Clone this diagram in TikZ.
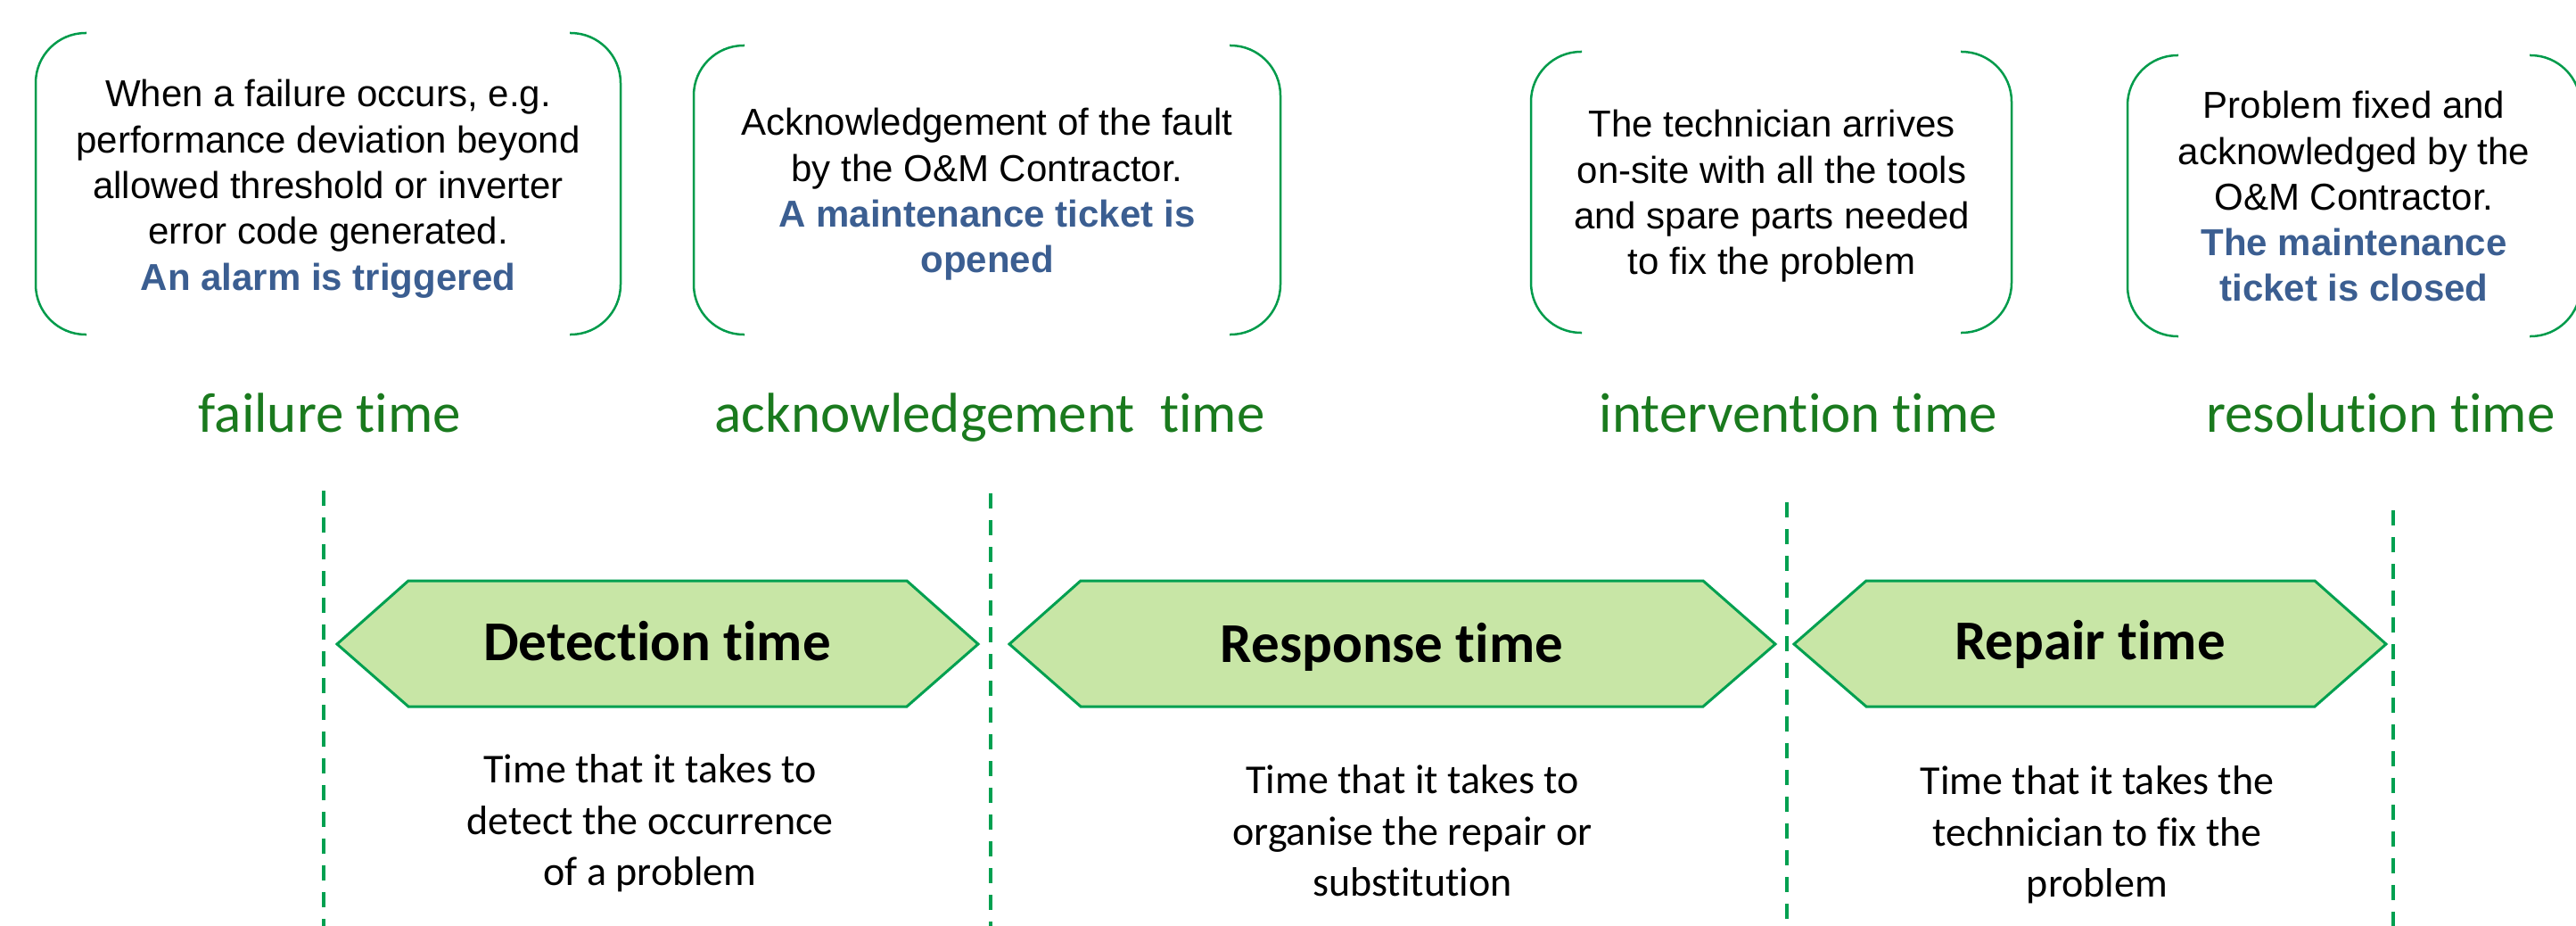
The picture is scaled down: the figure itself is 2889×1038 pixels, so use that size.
\documentclass[tikz,border=0pt]{standalone}
\usepackage{fontspec}
\setmainfont{Liberation Sans}
\newfontfamily\calfont[Ligatures=NoCommon,RawFeature={-liga;-clig;-dlig}]{Carlito}
\definecolor{brgreen}{RGB}{0,155,75}
\definecolor{dashgreen}{RGB}{0,160,80}
\definecolor{hexfill}{RGB}{200,230,166}
\definecolor{hexdraw}{RGB}{0,160,80}
\definecolor{lgreen}{RGB}{26,122,30}
\definecolor{tblue}{RGB}{59,94,145}
\newcommand{\hl}[1]{{\bfseries\color{tblue}#1}}
\begin{document}
\begin{tikzpicture}[x=1pt,y=-1pt,
  bracket/.style={draw=brgreen, line width=2.5pt, rounded corners=56pt},
  toptext/.style={align=center, inner sep=0pt, font=\fontsize{42}{51.3}\selectfont},
  timelabel/.style={anchor=base, inner sep=0pt, text=lgreen, font=\calfont\fontsize{63}{70}\selectfont},
  hexshape/.style={fill=hexfill, draw=hexdraw, line width=3pt, line join=miter},
  hextext/.style={anchor=base, inner sep=0pt, font=\calfont\bfseries\fontsize{63}{70}\selectfont},
  bottext/.style={align=center, inner sep=0pt, font=\calfont\fontsize{46}{57.5}\selectfont},
  divider/.style={draw=dashgreen, line width=4.5pt, dash pattern=on 17pt off 13pt}
]
\useasboundingbox (0,0) rectangle (2889,1038);

% ---- top boxes (brackets) ----
\draw[bracket] (97,37) -- (40,37) -- (40,375) -- (97,375);
\draw[bracket] (639,37) -- (696,37) -- (696,375) -- (639,375);
\draw[bracket] (835,51) -- (778,51) -- (778,375) -- (835,375);
\draw[bracket] (1379,51) -- (1436,51) -- (1436,375) -- (1379,375);
\draw[bracket] (1774,58) -- (1717,58) -- (1717,373) -- (1774,373);
\draw[bracket] (2199,58) -- (2256,58) -- (2256,373) -- (2199,373);
\draw[bracket] (2443,62) -- (2386,62) -- (2386,377) -- (2443,377);
\draw[bracket] (2837,62) -- (2894,62) -- (2894,377) -- (2837,377);

\node[toptext] (t1) at (368,211.7) {When a failure occurs, e.g.\\performance deviation beyond\\allowed threshold or inverter\\error code generated.\\\hl{An alarm is triggered}};
\node[toptext] (t2) at (1107,218) {Acknowledgement of the fault\\by the O\&M Contractor.\\\hl{A maintenance ticket is}\\\hl{opened}};
\node[toptext] (t3) at (1987,220) {The technician arrives\\on-site with all the tools\\and spare parts needed\\to fix the problem};
\node[toptext] (t4) at (2640,220.3) {Problem fixed and\\acknowledged by the\\O\&M Contractor.\\\hl{The maintenance}\\\hl{ticket is closed}};

% ---- time labels ----
\node[timelabel] (l1) at (370,484) {failure time};
\node[timelabel] (l2) at (1110,484) {acknowledgement\ \ time};
\node[timelabel] (l3) at (2017,484) {intervention time};
\node[timelabel] (l4) at (2670,484) {resolution time};

% ---- dashed dividers ----
\coordinate (v1a) at (363,550);  \coordinate (v1b) at (363,1040);
\coordinate (v2a) at (1111,553); \coordinate (v2b) at (1111,1040);
\coordinate (v3a) at (2004,563); \coordinate (v3b) at (2004,1040);
\coordinate (v4a) at (2684,572); \coordinate (v4b) at (2684,1040);
\draw[divider] (v1a) -- (v1b);
\draw[divider] (v2a) -- (v2b);
\draw[divider] (v3a) -- (v3b);
\draw[divider] (v4a) -- (v4b);

% ---- hexagons ----
\path[hexshape] (378,722) -- (458,651) -- (1017,651) -- (1097,722) -- (1017,792) -- (458,792) -- cycle;
\path[hexshape] (1132,722) -- (1212,651) -- (1910,651) -- (1991,722) -- (1910,792) -- (1212,792) -- cycle;
\path[hexshape] (2012,722) -- (2093,651) -- (2596,651) -- (2676,722) -- (2596,792) -- (2093,792) -- cycle;

\node[hextext] (h1) at (737,740) {Detection time};
\node[hextext] (h2) at (1561,742) {Response time};
\node[hextext] (h3) at (2344,739) {Repair time};

% ---- bottom descriptions ----
\node[bottext] (d1) at (729,923) {Time that it takes to\\detect the occurrence\\of a problem};
\node[bottext] (d2) at (1584,931.4) {Time that it takes to\\organise the repair or\\substitution};
\node[bottext] (d3) at (2352,936) {Time that it takes the\\technician to fix the\\problem};
\end{tikzpicture}
\end{document}
